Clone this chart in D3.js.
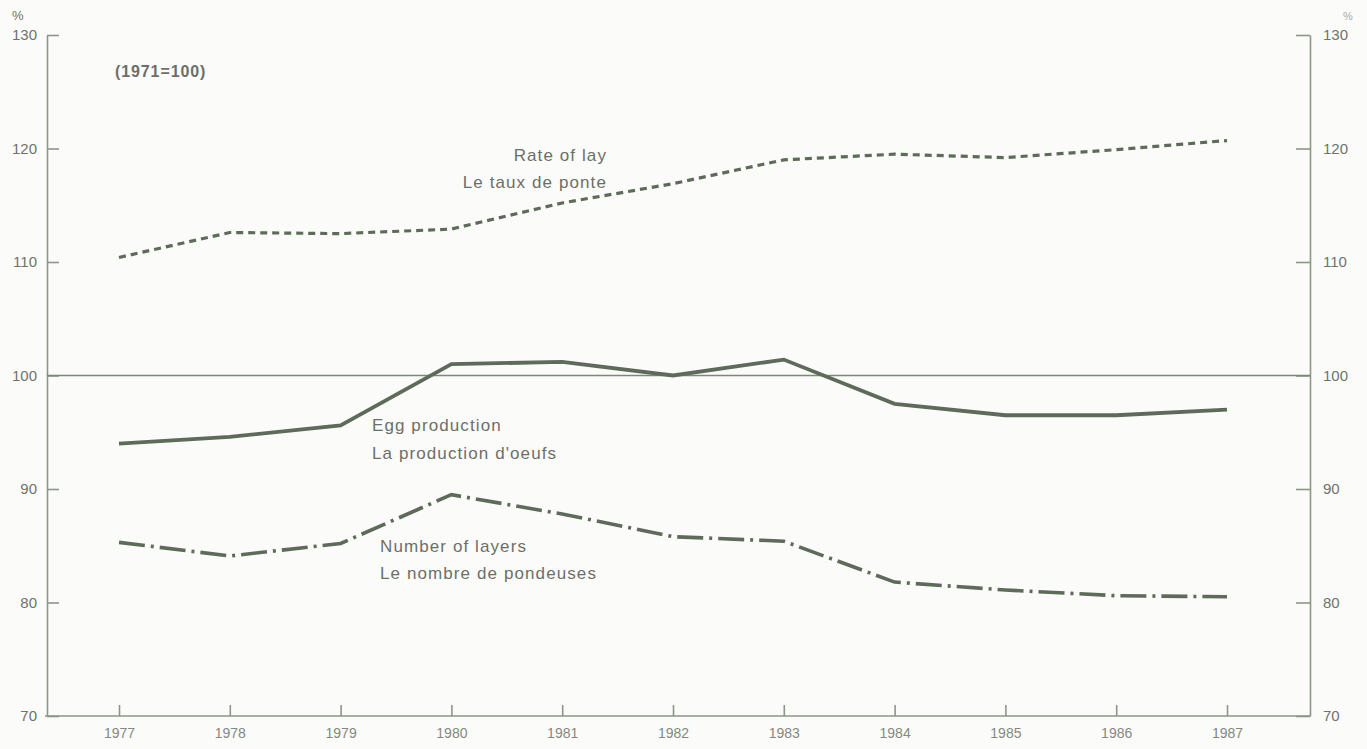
<!DOCTYPE html>
<html>
<head>
<meta charset="utf-8">
<script src="https://cdn.jsdelivr.net/npm/d3@7"></script>
<style>
  body { margin: 0; background: #fbfcf9; }
  svg { display: block; }
  .axis text { font-family: "Liberation Sans", Arial, sans-serif; font-size: 15px; fill: #6f726c; }
  .axis line, .axis path { stroke: #8c9688; stroke-width: 1.6; }
  .lbl { font-family: "Liberation Sans", Arial, sans-serif; font-size: 17px; fill: #6c6f69; letter-spacing: 1.1px; }
</style>
</head>
<body>
<div id="chart"></div>
<script>
// index values, 1971 = 100
const years = [1977, 1978, 1979, 1980, 1981, 1982, 1983, 1984, 1985, 1986, 1987];
const rateOfLay = [110.4, 112.6, 112.5, 112.9, 115.2, 116.9, 119.0, 119.5, 119.2, 119.9, 120.7];
const eggProduction = [94.0, 94.6, 95.6, 101.0, 101.2, 100.0, 101.4, 97.5, 96.5, 96.5, 97.0];
const numberOfLayers = [85.3, 84.1, 85.2, 89.5, 87.8, 85.8, 85.4, 81.8, 81.1, 80.6, 80.5];
const yTicks = [70, 80, 90, 100, 110, 120, 130];

const W = 1367, H = 749;
const plotLeft = 47, plotRight = 1310, plotTop = 35, plotBottom = 716;

const svg = d3.select("#chart").append("svg")
    .attr("width", W)
    .attr("height", H);

const x = d3.scaleLinear().domain([1977, 1987]).range([119, 1227]);
const y = d3.scaleLinear().domain([70, 130]).range([plotBottom, plotTop]);

// axes
svg.append("g")
    .attr("class", "axis")
    .attr("transform", `translate(${plotLeft},0)`)
    .call(d3.axisLeft(y).tickValues(yTicks).tickSizeInner(-12).tickSizeOuter(0).tickPadding(10));

svg.append("g")
    .attr("class", "axis")
    .attr("transform", `translate(${plotRight},0)`)
    .call(d3.axisRight(y).tickValues(yTicks).tickSizeInner(-14).tickSizeOuter(0).tickPadding(13));

const xAxis = svg.append("g")
    .attr("class", "axis")
    .attr("transform", `translate(0,${plotBottom})`)
    .call(d3.axisBottom(x).tickValues(years).tickFormat(d3.format("d")).tickSizeInner(-11).tickSizeOuter(0).tickPadding(12));
xAxis.select(".domain").remove();
xAxis.selectAll("text").style("font-size", "14px").style("fill", "#85887f");

svg.append("line")
    .attr("x1", plotLeft - 2).attr("x2", plotRight)
    .attr("y1", plotBottom).attr("y2", plotBottom)
    .attr("stroke", "#8c9688").attr("stroke-width", 1.6);

// reference line at 100
svg.append("line")
    .attr("x1", plotLeft).attr("x2", plotRight)
    .attr("y1", y(100)).attr("y2", y(100))
    .attr("stroke", "#7d8879").attr("stroke-width", 1.3);

// % marks and base note
svg.append("text").attr("x", 12).attr("y", 20).attr("class", "lbl").style("font-size", "13px").text("%");
svg.append("text").attr("x", 1343).attr("y", 20).attr("class", "lbl").style("font-size", "11px").style("fill", "#a6aaa2").text("%");
svg.append("text").attr("x", 115).attr("y", 77).attr("class", "lbl")
    .style("font-weight", "bold").style("letter-spacing", "0.9px").style("font-size", "16px").text("(1971=100)");

// series
const line = d3.line().x((d, i) => x(years[i])).y(d => y(d));
const series = [
    { values: rateOfLay, width: 3.2, dash: "7,5" },
    { values: eggProduction, width: 3.8, dash: null },
    { values: numberOfLayers, width: 3.6, dash: "26,6,3,6" }
];
series.forEach(s => {
    svg.append("path")
        .datum(s.values)
        .attr("d", line)
        .attr("fill", "none")
        .attr("stroke", "#5e6a5a")
        .attr("stroke-width", s.width)
        .attr("stroke-dasharray", s.dash);
});

// labels
svg.append("text").attr("class", "lbl").attr("x", 607).attr("y", 161).attr("text-anchor", "end").text("Rate of lay");
svg.append("text").attr("class", "lbl").attr("x", 607).attr("y", 188).attr("text-anchor", "end").text("Le taux de ponte");
svg.append("text").attr("class", "lbl").attr("x", 372).attr("y", 431).text("Egg production");
svg.append("text").attr("class", "lbl").attr("x", 372).attr("y", 459).text("La production d'oeufs");
svg.append("text").attr("class", "lbl").attr("x", 380).attr("y", 552).text("Number of layers");
svg.append("text").attr("class", "lbl").attr("x", 380).attr("y", 579).text("Le nombre de pondeuses");
</script>
</body>
</html>
